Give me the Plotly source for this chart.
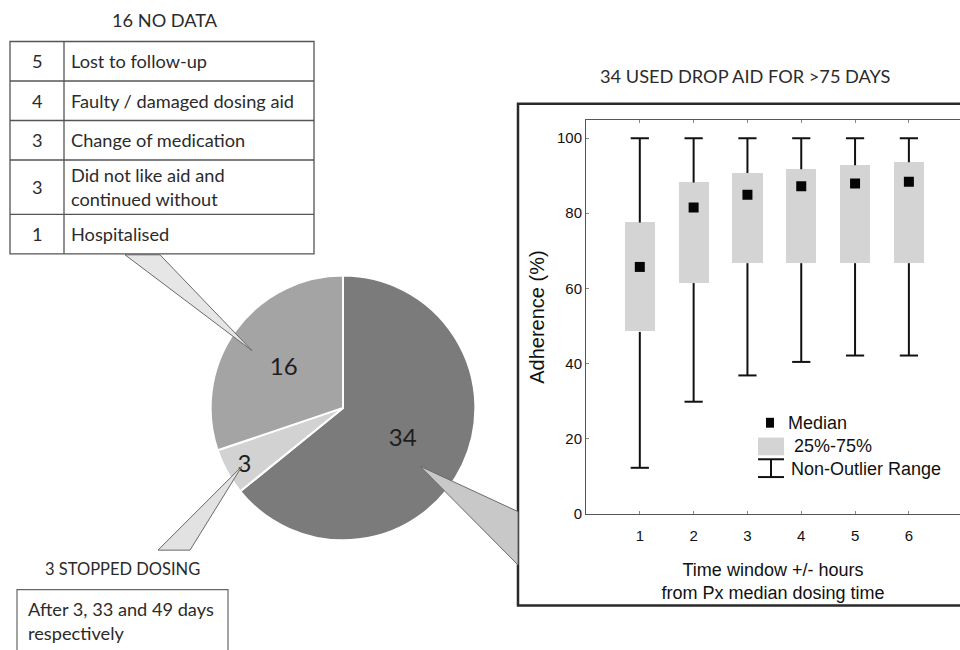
import plotly.graph_objects as go

W, H = 960, 650


def px(x):
    return x / W


def py(y):
    return 1 - y / H


# ---------------- data ----------------
pie_labels = ["Used drop aid for >75 days", "Stopped dosing", "No data"]
pie_values = [34, 3, 16]
pie_colors = ["#7b7b7b", "#d2d2d2", "#a4a4a4"]

nd_counts = [5, 4, 3, 3, 1]
nd_reasons = ["Lost to follow-up", "Faulty / damaged dosing aid", "Change of medication",
              "Did not like aid and<br>continued without", "Hospitalised"]

windows = [1, 2, 3, 4, 5, 6]
q1 = [48.4, 61.4, 66.7, 66.7, 66.7, 66.7]
q3 = [77.5, 88.2, 90.7, 91.7, 92.8, 93.6]
medians = [65.7, 81.5, 84.9, 87.2, 87.9, 88.4]
lows = [12.2, 29.8, 36.8, 40.4, 42.1, 42.1]
highs = [100, 100, 100, 100, 100, 100]
y_ticks = [0, 20, 40, 60, 80, 100]

LEFT_FONT = "Lato, Carlito, 'Open Sans', sans-serif"
CHART_FONT = "Arial, 'Liberation Sans', sans-serif"
TXT = "#2b2b2b"
LEFT_SIZE = 18.2

fig = go.Figure()

# ---------------- pie ----------------
fig.add_trace(go.Pie(
    labels=pie_labels, values=pie_values, sort=False, direction="clockwise", rotation=0,
    marker=dict(colors=pie_colors, line=dict(color="white", width=2)),
    textinfo="value", textposition="inside", insidetextorientation="horizontal",
    textfont=dict(family=LEFT_FONT, size=24, color="#1e1e1e"),
    domain=dict(x=[px(209), px(477)], y=[py(547), py(279)]),
    showlegend=False, hoverinfo="label+value",
))

# ---------------- box chart ----------------
fig.add_trace(go.Bar(
    x=windows, y=[b - a for a, b in zip(q1, q3)], base=q1, width=0.56,
    marker=dict(color="#d4d4d4", line=dict(width=0)), name="25%-75%", showlegend=False,
))
# upper whiskers (drawn down from max to q3)
fig.add_trace(go.Scatter(
    x=windows, y=highs, mode="markers",
    marker=dict(symbol="line-ew", size=13, line=dict(width=2, color="#111")),
    error_y=dict(type="data", symmetric=False, array=[0] * len(windows),
                 arrayminus=[h - b for h, b in zip(highs, q3)], width=0, thickness=2, color="#111"),
    showlegend=False, hoverinfo="skip",
))
# lower whiskers (drawn up from min to q1)
fig.add_trace(go.Scatter(
    x=windows, y=lows, mode="markers",
    marker=dict(symbol="line-ew", size=13, line=dict(width=2, color="#111")),
    error_y=dict(type="data", symmetric=False, array=[a - l for a, l in zip(q1, lows)],
                 arrayminus=[0] * len(windows), width=0, thickness=2, color="#111"),
    showlegend=False, hoverinfo="skip",
))
fig.add_trace(go.Scatter(
    x=windows, y=medians, mode="markers",
    marker=dict(symbol="square", size=10, color="#050505"),
    name="Median", showlegend=False,
))

axis_common = dict(showline=True, linecolor="#555", linewidth=1,
                   ticks="inside", ticklen=3, tickcolor="#888", showgrid=False, zeroline=False,
                   tickfont=dict(family=CHART_FONT, size=15, color="#111"))

fig.update_layout(
    width=W, height=H, autosize=False, margin=dict(l=0, r=0, t=0, b=0),
    paper_bgcolor="white", plot_bgcolor="white",
    xaxis=dict(domain=[px(586), 1], range=[0, 6.95], tickvals=windows, mirror="ticks",
               ticklabelstandoff=8, **axis_common,
               title=dict(text="Time window +/- hours<br>from Px median dosing time",
                          font=dict(family=CHART_FONT, size=18, color="#111"), standoff=20)),
    yaxis=dict(domain=[py(520), py(122)], range=[0, 104.7], tickvals=y_ticks, mirror=False,
               **axis_common,
               title=dict(text="Adherence (%)", font=dict(family=CHART_FONT, size=20, color="#111"),
                          standoff=6)),
    bargap=0,
)

shapes = []
annotations = []

# frame around box chart
shapes.append(dict(type="rect", xref="paper", yref="paper", x0=px(518), x1=px(975), y0=py(613), y1=py(105),
                   line=dict(color="#2a2a2a", width=2.5), fillcolor="rgba(0,0,0,0)", layer="below"))

# ---------------- legend of box chart (manual) ----------------
shapes.append(dict(type="rect", xref="paper", yref="paper", x0=px(766), x1=px(774), y0=py(433), y1=py(423),
                   fillcolor="#050505", line=dict(width=0)))
shapes.append(dict(type="rect", xref="paper", yref="paper", x0=px(758), x1=px(784), y0=py(461), y1=py(443),
                   fillcolor="#d4d4d4", line=dict(width=0)))
for yy in (465, 483):
    shapes.append(dict(type="line", xref="paper", yref="paper", x0=px(758), x1=px(784), y0=py(yy), y1=py(yy),
                       line=dict(color="#111", width=2)))
shapes.append(dict(type="line", xref="paper", yref="paper", x0=px(771), x1=px(771), y0=py(465), y1=py(483),
                   line=dict(color="#111", width=2)))
for txt, xx, yy in [("Median", 786, 428), ("25%-75%", 792, 452), ("Non-Outlier Range", 789, 475)]:
    annotations.append(dict(text=txt, xref="paper", yref="paper", x=px(xx), y=py(yy), xanchor="left",
                            yanchor="middle", showarrow=False,
                            font=dict(family=CHART_FONT, size=18, color="#111")))

# ---------------- callout wedges ----------------
wedges = [
    ([(125, 258), (160, 258), (252, 355)], "#e6e6e6"),
    ([(242, 472), (158, 557), (190, 557)], "#e2e2e2"),
    ([(420, 472), (518, 518), (518, 572)], "#c8c8c8"),
]
for pts, col in wedges:
    path = "M " + " L ".join(f"{px(x):.5f},{py(y):.5f}" for x, y in pts) + " Z"
    shapes.append(dict(type="path", xref="paper", yref="paper", path=path, fillcolor=col,
                       line=dict(color="#6a6a6a", width=1)))

# ---------------- "16 NO DATA" table ----------------
annotations.append(dict(text="16 NO DATA", xref="paper", yref="paper", x=px(165), y=py(20), showarrow=False,
                        xanchor="center", yanchor="middle",
                        font=dict(family=LEFT_FONT, size=LEFT_SIZE, color=TXT)))
top = 42
row_tops = []
for reason in nd_reasons:
    row_tops.append(top)
    top += 40 + 15 * reason.count("<br>")
table_bottom = top
shapes.append(dict(type="rect", xref="paper", yref="paper", x0=px(10), x1=px(314), y0=py(table_bottom),
                   y1=py(42), line=dict(color="#555", width=1.3), fillcolor="white"))
shapes.append(dict(type="line", xref="paper", yref="paper", x0=px(64), x1=px(64), y0=py(table_bottom),
                   y1=py(42), line=dict(color="#555", width=1.3)))
for i, (cnt, reason) in enumerate(zip(nd_counts, nd_reasons)):
    r_top = row_tops[i]
    r_bot = row_tops[i + 1] if i + 1 < len(row_tops) else table_bottom
    if i > 0:
        shapes.append(dict(type="line", xref="paper", yref="paper", x0=px(10), x1=px(314), y0=py(r_top),
                           y1=py(r_top), line=dict(color="#555", width=1.3)))
    ymid = (r_top + r_bot) / 2
    annotations.append(dict(text=str(cnt), xref="paper", yref="paper", x=px(37), y=py(ymid), showarrow=False,
                            xanchor="center", yanchor="middle",
                            font=dict(family=LEFT_FONT, size=LEFT_SIZE, color=TXT)))
    annotations.append(dict(text=reason, xref="paper", yref="paper", x=px(69), y=py(ymid), showarrow=False,
                            xanchor="left", yanchor="middle", align="left",
                            font=dict(family=LEFT_FONT, size=LEFT_SIZE, color=TXT)))

# ---------------- "3 STOPPED DOSING" ----------------
annotations.append(dict(text="3 STOPPED DOSING", xref="paper", yref="paper", x=px(122), y=py(576),
                        showarrow=False, xanchor="center", yanchor="middle",
                        font=dict(family=LEFT_FONT, size=16.5, color=TXT)))
shapes.append(dict(type="rect", xref="paper", yref="paper", x0=px(17), x1=px(228), y0=py(670), y1=py(597),
                   line=dict(color="#666", width=1.2), fillcolor="white"))
annotations.append(dict(text="After 3, 33 and 49 days<br>respectively", xref="paper", yref="paper",
                        x=px(26), y=py(603), showarrow=False, xanchor="left", yanchor="top", align="left",
                        font=dict(family=LEFT_FONT, size=LEFT_SIZE, color=TXT)))

# ---------------- "34 USED DROP AID" title ----------------
annotations.append(dict(text="34 USED DROP AID FOR >75 DAYS", xref="paper", yref="paper", x=px(745), y=py(77),
                        showarrow=False, xanchor="center", yanchor="middle",
                        font=dict(family=LEFT_FONT, size=LEFT_SIZE, color=TXT)))

fig.update_layout(shapes=shapes, annotations=annotations)

fix_page = (
    "document.documentElement.style.margin='0';"
    "document.documentElement.style.overflow='hidden';"
    "document.body.style.margin='0';"
    "document.body.style.overflow='hidden';"
    "var gd=document.getElementById('{plot_id}');"
    "gd.style.display='block';"
)

fig.write_html("out.html", config={"displayModeBar": False, "responsive": False}, post_script=fix_page)
